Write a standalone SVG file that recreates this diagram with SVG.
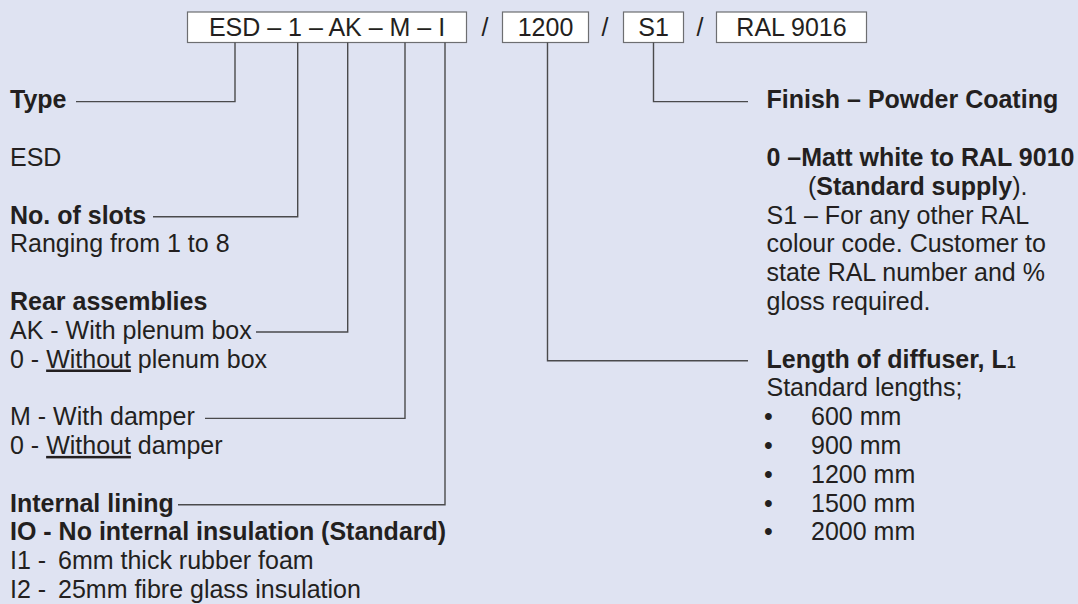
<svg xmlns="http://www.w3.org/2000/svg" width="1078" height="604" viewBox="0 0 1078 604">
<style>
text{font-family:"Liberation Sans",Arial,sans-serif;font-size:25px;fill:#231f20}
.b{font-weight:bold}
.box{fill:#ffffff;stroke:#6d6e71;stroke-width:1.2}
.ln{fill:none;stroke:#4a4a4c;stroke-width:1.4}
.u{text-decoration:underline}
</style>
<rect width="1078" height="604" fill="#dfe3f2"/>
<g id="code">
<g id="box-esd"><rect class="box" x="187.5" y="12" width="279" height="30.5"/><text x="327" y="35.5" text-anchor="middle">ESD – 1 – AK – M – I</text></g>
<text x="485" y="35.5" text-anchor="middle">/</text>
<g id="box-len"><rect class="box" x="502.5" y="12" width="86" height="30.5"/><text x="545.5" y="35.5" text-anchor="middle">1200</text></g>
<text x="605" y="35.5" text-anchor="middle">/</text>
<g id="box-fin"><rect class="box" x="623.5" y="12" width="60" height="30.5"/><text x="653.5" y="35.5" text-anchor="middle">S1</text></g>
<text x="700" y="35.5" text-anchor="middle">/</text>
<g id="box-ral"><rect class="box" x="716.5" y="12" width="150" height="30.5"/><text x="791.5" y="35.5" text-anchor="middle">RAL 9016</text></g>
</g>
<g id="connectors">
<polyline class="ln" points="235,42.5 235,101.6 76,101.6"/>
<polyline class="ln" points="297.7,42.5 297.7,216.8 153,216.8"/>
<polyline class="ln" points="347.7,42.5 347.7,332 256,332"/>
<polyline class="ln" points="405,42.5 405,418.4 205,418.4"/>
<polyline class="ln" points="445,42.5 445,504.8 178,504.8"/>
<polyline class="ln" points="653.5,42.5 653.5,101.6 748,101.6"/>
<polyline class="ln" points="547.5,42.5 547.5,360.8 748,360.8"/>
</g>
<g id="type">
<text class="b" x="10" y="108.3">Type</text>
<text x="10" y="165.9">ESD</text>
</g>
<g id="slots">
<text class="b" x="10" y="223.5">No. of slots</text>
<text x="10" y="252.3">Ranging from 1 to 8</text>
</g>
<g id="rear">
<text class="b" x="10" y="309.9">Rear assemblies</text>
<text x="10" y="338.7">AK - With plenum box</text>
<text x="10" y="367.5">0 - <tspan class="u">Without</tspan> plenum box</text>
</g>
<g id="damper">
<text x="10" y="425.1">M - With damper</text>
<text x="10" y="453.9">0 - <tspan class="u">Without</tspan> damper</text>
</g>
<g id="lining">
<text class="b" x="10" y="511.5">Internal lining</text>
<text class="b" x="10" y="540.3">IO - No internal insulation (Standard)</text>
<text x="10" y="569.1">I1 - <tspan x="58">6mm thick rubber foam</tspan></text>
<text x="10" y="597.9">I2 - <tspan x="58">25mm fibre glass insulation</tspan></text>
</g>
<g id="finish">
<text class="b" x="766.5" y="108.3">Finish – Powder Coating</text>
<text class="b" x="766.5" y="165.9">0 –Matt white to RAL 9010</text>
<text x="808" y="194.7">(<tspan class="b">Standard supply</tspan>).</text>
<text x="766.5" y="223.5">S1 – For any other RAL</text>
<text x="766.5" y="252.3">colour code. Customer to</text>
<text x="766.5" y="281.1">state RAL number and %</text>
<text x="766.5" y="309.9">gloss required.</text>
</g>
<g id="length">
<text class="b" x="766.5" y="367.5">Length of diffuser, L<tspan font-size="16">1</tspan></text>
<text x="766.5" y="396.3">Standard lengths;</text>
<text x="764" y="425.1">•</text><text x="811" y="425.1">600 mm</text>
<text x="764" y="453.9">•</text><text x="811" y="453.9">900 mm</text>
<text x="764" y="482.7">•</text><text x="811" y="482.7">1200 mm</text>
<text x="764" y="511.5">•</text><text x="811" y="511.5">1500 mm</text>
<text x="764" y="540.3">•</text><text x="811" y="540.3">2000 mm</text>
</g>
</svg>
